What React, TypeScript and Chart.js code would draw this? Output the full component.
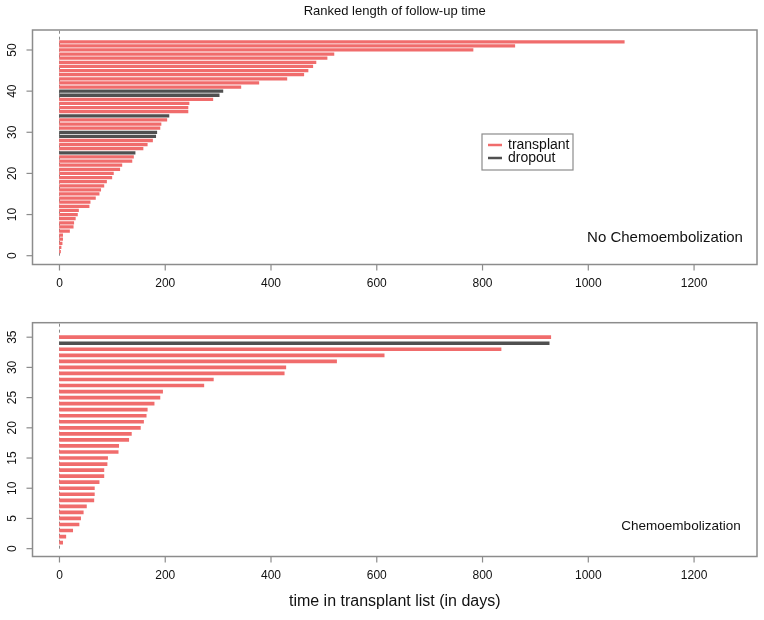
import React, { useEffect, useRef } from 'react';
import { Chart, registerables } from 'chart.js';
Chart.register(...registerables);

// ---- data ----
const X_TICKS = [0, 200, 400, 600, 800, 1000, 1200];
const TOP_Y_TICKS = [0, 10, 20, 30, 40, 50];
const BOTTOM_Y_TICKS = [0, 5, 10, 15, 20, 25, 30, 35];

// days on the transplant list, ranked (rank 1 = shortest)
const TOP_DAYS = [2, 3, 5, 6, 6, 19, 26, 27, 30, 34, 36, 56, 58, 68, 75, 78, 84, 89, 99, 102, 114, 118, 137, 140, 143, 158, 166, 176, 182, 184, 190, 192, 203, 207, 243, 243, 245, 290, 302, 309, 343, 377, 430, 462, 470, 479, 485, 506, 519, 782, 861, 1068];
const TOP_DROPOUT_RANKS = [25, 29, 30, 34, 39, 40];

const BOTTOM_DAYS = [6, 12, 25, 37, 40, 45, 51, 65, 66, 66, 75, 84, 84, 90, 91, 111, 112, 131, 136, 153, 159, 164, 166, 179, 190, 195, 273, 291, 425, 428, 524, 614, 835, 926, 929];
const BOTTOM_DROPOUT_RANKS = [34];

const SERIES_NAMES = ['transplant', 'dropout'];
const TITLE = 'Ranked length of follow-up time';
const X_TITLE = 'time in transplant list (in days)';
const TOP_LABEL = 'No Chemoembolization';
const BOTTOM_LABEL = 'Chemoembolization';

const RED = '#F06C6C';
const DARK = '#505050';
const FONT = '"Liberation Sans", Arial, Helvetica, sans-serif';

type PanelProps = {
  width: number;
  height: number;
  top: number;
  days: number[];
  dropouts: number[];
  yTicks: number[];
  yMin: number;
  yMax: number;
  barThickness: number;
  padding: { left: number; right: number; top: number; bottom: number };
  label: string;
  labelPos: [number, number];
  labelSize: number;
  legend?: { left: number; top: number; w: number; h: number };
  title?: { text: string; y: number };
  xTitle?: { text: string; y: number };
};

const rPlotPlugin = {
  id: 'rPlot',
  beforeDatasetsDraw(chart: any) {
    const { ctx, chartArea: a, scales } = chart;
    const x = scales.x, y = scales.y;
    ctx.save();
    ctx.strokeStyle = '#8a8a8a';
    ctx.lineWidth = 1;
    ctx.setLineDash([3, 3]);
    const px = Math.round(x.getPixelForValue(0)) + 0.5;
    ctx.beginPath();
    ctx.moveTo(px, y.getPixelForValue(0));
    ctx.lineTo(px, a.top);
    ctx.stroke();
    ctx.restore();
  },
  afterDraw(chart: any, _args: any, o: any) {
    const { ctx, chartArea: a, scales } = chart;
    const x = scales.x, y = scales.y;
    ctx.save();
    // frame
    ctx.strokeStyle = '#8c8c8c';
    ctx.lineWidth = 1.5;
    ctx.strokeRect(a.left, a.top, a.right - a.left, a.bottom - a.top);
    // x axis ticks & labels
    ctx.lineWidth = 1.2;
    ctx.fillStyle = '#111';
    ctx.font = `12px ${FONT}`;
    ctx.textAlign = 'center';
    ctx.textBaseline = 'middle';
    for (const v of X_TICKS) {
      const px = x.getPixelForValue(v);
      ctx.beginPath();
      ctx.moveTo(px, a.bottom);
      ctx.lineTo(px, a.bottom + 6);
      ctx.stroke();
      ctx.fillText(String(v), px, a.bottom + 19.5);
    }
    // y axis ticks & rotated labels
    for (const v of o.yTicks) {
      const py = y.getPixelForValue(v);
      ctx.beginPath();
      ctx.moveTo(a.left - 6, py);
      ctx.lineTo(a.left, py);
      ctx.stroke();
      ctx.save();
      ctx.translate(a.left - 20, py);
      ctx.rotate(-Math.PI / 2);
      ctx.fillText(String(v), 0, 0);
      ctx.restore();
    }
    // panel label
    ctx.textAlign = 'center';
    ctx.font = `${o.labelSize}px ${FONT}`;
    ctx.fillText(o.label, o.labelPos[0], o.labelPos[1]);
    // title
    const cx = (a.left + a.right) / 2;
    if (o.title) {
      ctx.textAlign = 'center';
      ctx.font = `13px ${FONT}`;
      ctx.fillText(o.title.text, cx, o.title.y);
    }
    if (o.xTitle) {
      ctx.textAlign = 'center';
      ctx.font = `16px ${FONT}`;
      ctx.fillText(o.xTitle.text, cx, o.xTitle.y);
    }
    // legend
    if (o.legend) {
      const L = o.legend;
      ctx.strokeStyle = '#8c8c8c';
      ctx.lineWidth = 1.2;
      ctx.strokeRect(L.left, L.top, L.w, L.h);
      const rows = [
        { name: SERIES_NAMES[0], color: RED },
        { name: SERIES_NAMES[1], color: DARK },
      ];
      ctx.font = `14px ${FONT}`;
      ctx.textAlign = 'left';
      rows.forEach((r, i) => {
        const ry = L.top + 11 + i * 13;
        ctx.strokeStyle = r.color;
        ctx.lineWidth = 2.5;
        ctx.beginPath();
        ctx.moveTo(L.left + 6, ry);
        ctx.lineTo(L.left + 20, ry);
        ctx.stroke();
        ctx.fillStyle = '#111';
        ctx.fillText(r.name, L.left + 26, ry);
      });
    }
    ctx.restore();
  },
};

function Panel(p: PanelProps) {
  const ref = useRef<HTMLCanvasElement | null>(null);
  useEffect(() => {
    if (!ref.current) return;
    const pts = p.days.map((d, i) => ({ x: d, y: i + 1 }));
    const transplant = pts.filter((q) => !p.dropouts.includes(q.y));
    const dropout = pts.filter((q) => p.dropouts.includes(q.y));
    const chart = new Chart(ref.current, {
      type: 'bar',
      data: {
        datasets: [
          {
            label: SERIES_NAMES[0],
            data: transplant as any,
            backgroundColor: RED,
            borderWidth: 0,
            barThickness: p.barThickness,
            grouped: false,
          } as any,
          {
            label: SERIES_NAMES[1],
            data: dropout as any,
            backgroundColor: DARK,
            borderWidth: 0,
            barThickness: p.barThickness,
            grouped: false,
          } as any,
        ],
      },
      options: {
        indexAxis: 'y',
        responsive: false,
        animation: false,
        events: [],
        layout: { padding: p.padding },
        scales: {
          x: { type: 'linear', min: -51, max: 1319, display: false, offset: false },
          y: { type: 'linear', min: p.yMin, max: p.yMax, display: false, offset: false },
        },
        plugins: {
          legend: { display: false },
          tooltip: { enabled: false },
          rPlot: {
            yTicks: p.yTicks,
            label: p.label,
            labelPos: p.labelPos,
            labelSize: p.labelSize,
            legend: p.legend,
            title: p.title,
            xTitle: p.xTitle,
          },
        } as any,
      },
      plugins: [rPlotPlugin],
    });
    return () => chart.destroy();
  }, []);
  return (
    <canvas
      ref={ref}
      width={p.width}
      height={p.height}
      style={{ position: 'absolute', left: 0, top: p.top, width: p.width, height: p.height }}
    />
  );
}

export default function App() {
  return (
    <div style={{ position: 'absolute', left: 0, top: 0, width: 764, height: 620, background: '#fff' }}>
      <Panel
        width={764}
        height={300}
        top={0}
        days={TOP_DAYS}
        dropouts={TOP_DROPOUT_RANKS}
        yTicks={TOP_Y_TICKS}
        yMin={-2.14}
        yMax={54.86}
        barThickness={2.6}
        padding={{ left: 32.5, right: 7, top: 30, bottom: 35.5 }}
        label={TOP_LABEL}
        labelPos={[665, 238]}
        labelSize={15}
        legend={{ left: 482, top: 134, w: 91, h: 36 }}
        title={{ text: TITLE, y: 11 }}
      />
      <Panel
        width={764}
        height={320}
        top={300}
        days={BOTTOM_DAYS}
        dropouts={BOTTOM_DROPOUT_RANKS}
        yTicks={BOTTOM_Y_TICKS}
        yMin={-1.3}
        yMax={37.4}
        barThickness={3}
        padding={{ left: 32.5, right: 7, top: 22.7, bottom: 63.5 }}
        label={BOTTOM_LABEL}
        labelPos={[681, 226]}
        labelSize={13.5}
        xTitle={{ text: X_TITLE, y: 302 }}
      />
    </div>
  );
}
